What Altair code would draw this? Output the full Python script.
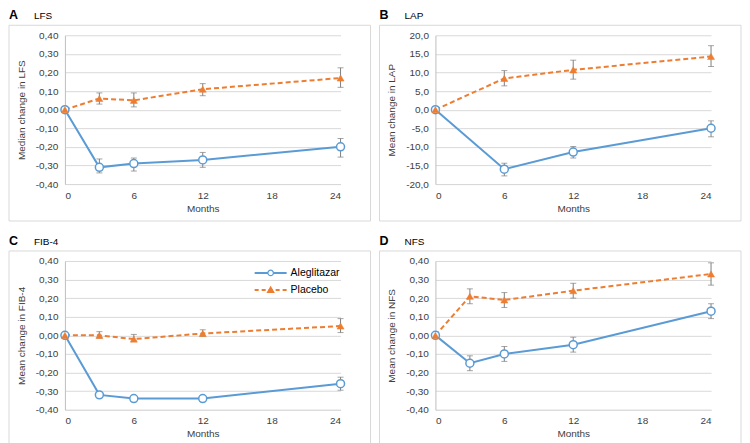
import altair as alt
import pandas as pd

series_names = ["Aleglitazar", "Placebo"]
x_ticks = [0, 6, 12, 18, 24]

# Panel A: LFS
months_a = [0, 3, 6, 12, 24]
lfs_alg = [0.0, -0.31, -0.29, -0.27, -0.20]
lfs_alg_lo = [None, -0.34, -0.33, -0.31, -0.255]
lfs_alg_hi = [None, -0.265, -0.26, -0.23, -0.155]
lfs_pla = [0.0, 0.06, 0.05, 0.11, 0.17]
lfs_pla_lo = [None, 0.03, 0.015, 0.075, 0.12]
lfs_pla_hi = [None, 0.09, 0.09, 0.14, 0.225]

# Panel B: LAP
months_b = [0, 6, 12, 24]
lap_alg = [0.0, -16.0, -11.4, -5.0]
lap_alg_lo = [None, -17.8, -13.0, -7.3]
lap_alg_hi = [None, -14.4, -9.9, -3.0]
lap_pla = [0.0, 8.4, 10.7, 14.3]
lap_pla_lo = [None, 6.4, 8.2, 11.6]
lap_pla_hi = [None, 10.5, 13.3, 17.2]

# Panel C: FIB-4
months_c = [0, 3, 6, 12, 24]
fib_alg = [0.0, -0.32, -0.34, -0.34, -0.26]
fib_alg_lo = [None, None, None, None, -0.295]
fib_alg_hi = [None, None, None, None, -0.225]
fib_pla = [0.0, 0.0, -0.02, 0.01, 0.05]
fib_pla_lo = [None, -0.015, -0.03, -0.005, 0.015]
fib_pla_hi = [None, 0.02, 0.005, 0.03, 0.09]

# Panel D: NFS
months_d = [0, 3, 6, 12, 24]
nfs_alg = [0.0, -0.15, -0.10, -0.05, 0.13]
nfs_alg_lo = [None, -0.19, -0.14, -0.09, 0.09]
nfs_alg_hi = [None, -0.11, -0.06, -0.01, 0.17]
nfs_pla = [0.0, 0.21, 0.19, 0.24, 0.33]
nfs_pla_lo = [None, 0.17, 0.15, 0.20, 0.27]
nfs_pla_hi = [None, 0.25, 0.23, 0.28, 0.39]

ticks_small = [-0.4, -0.3, -0.2, -0.1, 0.0, 0.1, 0.2, 0.3, 0.4]
ticks_lap = [-20, -15, -10, -5, 0, 5, 10, 15, 20]

BLUE = "#5B9BD5"
ORANGE = "#ED7D31"
GRID = "#d9d9d9"
TXT = "#404040"
FONT = "Liberation Sans"
FS = 10
W, H = 276, 149


def label_expr(d):
    return ("(datum.value < -0.000001 ? '-' : '') + replace(format(abs(datum.value), '.%df'), '.', ',')" % d)


def panel(letter, name, ytitle, months, alg, alg_lo, alg_hi, pla, pla_lo, pla_hi, yticks, dec, legend=False):
    df = pd.DataFrame({
        "month": months * 2,
        "series": [series_names[0]] * len(months) + [series_names[1]] * len(months),
        "value": alg + pla,
        "lo": alg_lo + pla_lo,
        "hi": alg_hi + pla_hi,
    })
    base = alt.Chart(df)
    xenc = alt.X("month:Q", scale=alt.Scale(domain=[0, 24], nice=False, zero=False),
                 axis=alt.Axis(values=x_ticks, title="Months", grid=False, ticks=False,
                               domainColor=GRID, labelPadding=6, titlePadding=3,
                               labelFontSize=FS, titleFontSize=FS, labelColor=TXT,
                               titleColor=TXT, titleFontWeight="normal", labelOverlap=False,
                               labelFont=FONT, titleFont=FONT))
    yaxis = alt.Axis(values=yticks, title=ytitle, labelExpr=label_expr(dec), tickCount=len(yticks),
                     grid=True, gridColor=GRID, gridOpacity=1, ticks=False, domainColor="#bfbfbf",
                     labelPadding=7, titlePadding=9, labelFontSize=FS,
                     titleFontSize=FS, labelColor=TXT, titleColor=TXT, labelOverlap=False,
                     titleFontWeight="normal", labelFont=FONT, titleFont=FONT)
    yscale = alt.Scale(domain=[yticks[0], yticks[-1]], nice=False, zero=False)

    def Y(field):
        return alt.Y(field, scale=yscale, axis=yaxis)

    sel_a = alt.datum.series == series_names[0]
    sel_p = alt.datum.series == series_names[1]

    box = alt.Chart(pd.DataFrame({"k": [0]})).mark_rect(
        fill="white", fillOpacity=0, stroke=GRID, strokeWidth=1
    ).encode(x=alt.value(-56), x2=alt.value(W + 30), y=alt.value(-10), y2=alt.value(H + 37))
    lab1 = alt.Chart(pd.DataFrame({"t": [letter]})).mark_text(
        align="left", baseline="alphabetic", fontSize=12.5, fontWeight="bold", font=FONT, color="#000000"
    ).encode(x=alt.value(-56), y=alt.value(-16), text="t:N")
    lab2 = alt.Chart(pd.DataFrame({"t": [name]})).mark_text(
        align="left", baseline="alphabetic", fontSize=FS, font=FONT, color="#000000"
    ).encode(x=alt.value(-31), y=alt.value(-16), text="t:N")

    line_a = base.transform_filter(sel_a).mark_line(color=BLUE, strokeWidth=2).encode(x=xenc, y=Y("value:Q"))
    line_p = base.transform_filter(sel_p).mark_line(color=ORANGE, strokeWidth=2, strokeDash=[5, 3]).encode(
        x=xenc, y=Y("value:Q"))
    err = base.transform_filter("isValid(datum.lo)").mark_rule(color="#7f7f7f", strokeWidth=1).encode(
        x=xenc, y=Y("lo:Q"), y2="hi:Q")
    cap_lo = base.transform_filter("isValid(datum.lo)").mark_tick(
        color="#7f7f7f", orient="horizontal", size=6, thickness=1).encode(x=xenc, y=Y("lo:Q"))
    cap_hi = base.transform_filter("isValid(datum.lo)").mark_tick(
        color="#7f7f7f", orient="horizontal", size=6, thickness=1).encode(x=xenc, y=Y("hi:Q"))
    pts_a = base.transform_filter(sel_a).mark_point(
        shape="circle", filled=True, fill="white", stroke=BLUE, strokeWidth=1.5, size=64, opacity=1
    ).encode(x=xenc, y=Y("value:Q"))
    pts_p = base.transform_filter(sel_p).mark_point(
        shape="triangle-up", filled=True, fill=ORANGE, stroke=ORANGE, strokeWidth=0.5, size=50, opacity=1
    ).encode(x=xenc, y=Y("value:Q"))

    layers = [box, lab1, lab2, line_a, line_p, err, cap_lo, cap_hi, pts_a, pts_p]

    if legend:
        one = pd.DataFrame({"k": [0]})
        lx0, lx1, lxm, ltx = 190, 222, 206, 226
        ly1, ly2 = 12, 29
        layers += [
            alt.Chart(one).mark_rule(color=BLUE, strokeWidth=2).encode(
                x=alt.value(lx0), x2=alt.value(lx1), y=alt.value(ly1)),
            alt.Chart(one).mark_point(shape="circle", filled=True, fill="white", stroke=BLUE,
                                      strokeWidth=1.2, size=30, opacity=1).encode(
                x=alt.value(lxm), y=alt.value(ly1)),
            alt.Chart(pd.DataFrame({"t": [series_names[0]]})).mark_text(
                align="left", baseline="middle", fontSize=10.5, font=FONT, color="#000000").encode(
                x=alt.value(ltx), y=alt.value(ly1), text="t:N"),
            alt.Chart(one).mark_rule(color=ORANGE, strokeWidth=2, strokeDash=[4, 3]).encode(
                x=alt.value(lx0), x2=alt.value(lx1), y=alt.value(ly2)),
            alt.Chart(one).mark_point(shape="triangle-up", filled=True, fill=ORANGE, stroke=ORANGE,
                                      size=25, opacity=1).encode(
                x=alt.value(lxm), y=alt.value(ly2)),
            alt.Chart(pd.DataFrame({"t": [series_names[1]]})).mark_text(
                align="left", baseline="middle", fontSize=10.5, font=FONT, color="#000000").encode(
                x=alt.value(ltx), y=alt.value(ly2), text="t:N"),
        ]
    return alt.layer(*layers).properties(width=W, height=H)


pa = panel("A", "LFS", "Median change in LFS", months_a, lfs_alg, lfs_alg_lo, lfs_alg_hi,
           lfs_pla, lfs_pla_lo, lfs_pla_hi, ticks_small, 2)
pb = panel("B", "LAP", "Mean change in LAP", months_b, lap_alg, lap_alg_lo, lap_alg_hi,
           lap_pla, lap_pla_lo, lap_pla_hi, ticks_lap, 1)
pc = panel("C", "FIB-4", "Mean change in FIB-4", months_c, fib_alg, fib_alg_lo, fib_alg_hi,
           fib_pla, fib_pla_lo, fib_pla_hi, ticks_small, 2, legend=True)
pd_ = panel("D", "NFS", "Mean change in NFS", months_d, nfs_alg, nfs_alg_lo, nfs_alg_hi,
            nfs_pla, nfs_pla_lo, nfs_pla_hi, ticks_small, 2)

chart = alt.vconcat(
    alt.hconcat(pa, pb, spacing=7),
    alt.hconcat(pc, pd_, spacing=7),
    spacing=12,
).properties(padding=0, background="white").configure_view(stroke="transparent")

chart.save("out.html", embed_options={"renderer": "svg", "actions": False})
